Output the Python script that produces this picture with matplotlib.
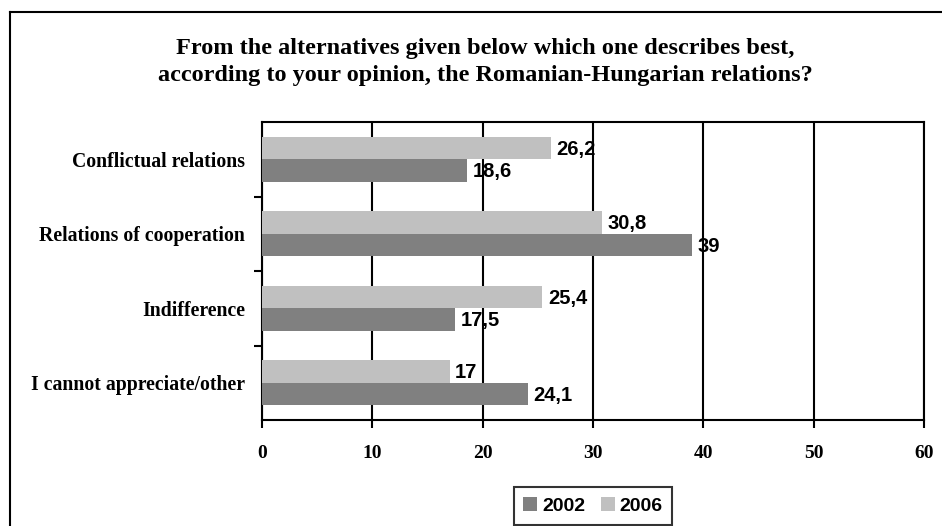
import matplotlib
matplotlib.use("Agg")
import matplotlib.pyplot as plt
from matplotlib.lines import Line2D
from matplotlib.patches import Patch

categories = ["Conflictual relations", "Relations of cooperation", "Indifference", "I cannot appreciate/other"]
values_2002 = [18.6, 39, 17.5, 24.1]
values_2006 = [26.2, 30.8, 25.4, 17]
series_names = ["2002", "2006"]
xticks = [0, 10, 20, 30, 40, 50, 60]
title = "From the alternatives given below which one describes best,\naccording to your opinion, the Romanian-Hungarian relations?"

c2002 = "#808080"
c2006 = "#C0C0C0"
W, H = 942, 526
fig = plt.figure(figsize=(W / 100, H / 100), dpi=100)

# figure border (left and top visible)
fig.add_artist(Line2D([10 / W, 10 / W], [0, 1 - 12 / H], color="black", lw=1.5, transform=fig.transFigure))
fig.add_artist(Line2D([10 / W, 1], [1 - 12 / H, 1 - 12 / H], color="black", lw=1.5, transform=fig.transFigure))

ax = fig.add_axes([262 / W, 1 - 420 / H, 662 / W, 298 / H])
ypos = list(range(len(categories)))
bh = 0.3
ax.barh([y - bh / 2 for y in ypos], values_2006, height=bh, color=c2006, zorder=3)
ax.barh([y + bh / 2 for y in ypos], values_2002, height=bh, color=c2002, zorder=3)

def fmt(v):
    s = ("%g" % v)
    return s.replace(".", ",")

for y, v in zip(ypos, values_2006):
    ax.annotate(fmt(v), (v, y - bh / 2), xytext=(4, -1), textcoords="offset points",
                va="center", ha="left", fontsize=14.5, fontweight="bold", family="Liberation Sans", zorder=5)
for y, v in zip(ypos, values_2002):
    ax.annotate(fmt(v), (v, y + bh / 2), xytext=(4, -1), textcoords="offset points",
                va="center", ha="left", fontsize=14.5, fontweight="bold", family="Liberation Sans", zorder=5)

ax.set_xlim(0, 60)
ax.set_ylim(len(categories) - 0.5, -0.5)
ax.set_xticks(xticks)
ax.set_xticklabels([str(t) for t in xticks], fontsize=14, fontweight="bold", family="Liberation Serif")
ax.set_yticks([i + 0.5 for i in range(len(categories) - 1)])
ax.set_yticklabels([])
ax.set_yticks(ypos, minor=True)
ax.set_yticklabels(categories, minor=True, fontsize=14.2, fontweight="bold", family="Liberation Serif")
ax.tick_params(axis="y", which="minor", length=0, pad=12)
ax.tick_params(axis="y", which="major", length=6, width=1.5, direction="out")
ax.tick_params(axis="x", length=6, width=1.5, direction="out", pad=12)
ax.grid(axis="x", color="black", lw=1.5, zorder=1)
for s in ax.spines.values():
    s.set_color("black")
    s.set_linewidth(1.5)

fig.text(485 / W, 1 - 62 / H, title, ha="center", va="center", multialignment="center",
         fontsize=17.5, fontweight="bold", family="Liberation Serif", linespacing=1.4)

handles = [Patch(facecolor=c2002), Patch(facecolor=c2006)]
leg = fig.legend(handles, series_names, loc="center", bbox_to_anchor=(593 / W, 1 - 506 / H),
                 ncol=2, frameon=True, fancybox=False, edgecolor="black",
                 prop={"family": "Liberation Sans", "weight": "bold", "size": 14},
                 handlelength=0.72, handleheight=0.72, handletextpad=0.25, columnspacing=0.8,
                 borderpad=0.5)
leg.get_frame().set_linewidth(1.5)

fig.savefig("out.png", dpi=100)
